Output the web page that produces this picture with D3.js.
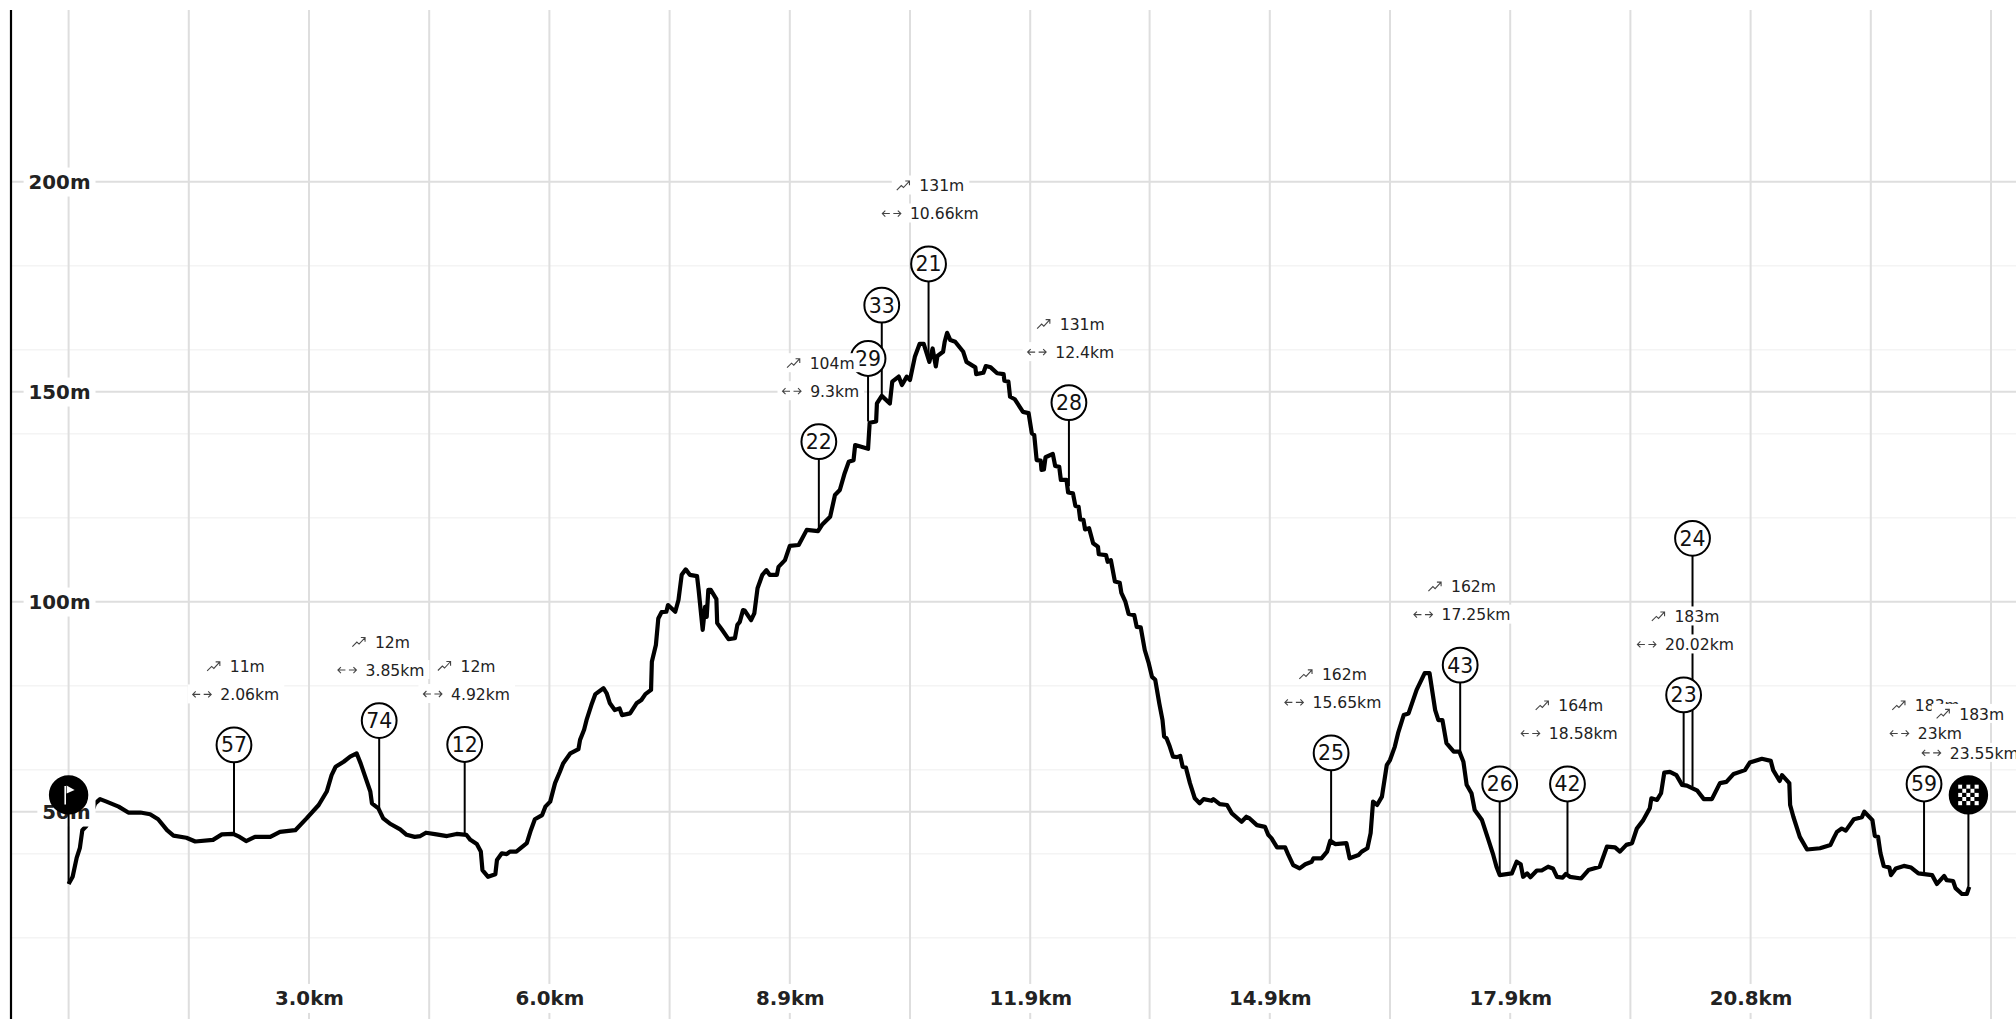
<!DOCTYPE html>
<html>
<head>
<meta charset="utf-8">
<script src="https://cdn.jsdelivr.net/npm/d3@7/dist/d3.min.js"></script>
<style>
  body { margin: 0; background: #fff; overflow: hidden; }
  text { font-family: "DejaVu Sans", sans-serif; }
</style>
</head>
<body>
<script>
var profileKm = [0,0.05,0.10,0.14,0.17,0.22,0.33,0.39,0.47,0.62,0.74,0.89,1.01,1.11,1.22,1.30,1.46,1.57,1.79,1.90,2.04,2.12,2.20,2.31,2.50,2.62,2.81,2.95,3.10,3.20,3.26,3.31,3.41,3.49,3.57,3.62,3.67,3.74,3.76,3.84,3.90,3.98,4.11,4.19,4.29,4.36,4.43,4.56,4.69,4.81,4.93,4.98,5.06,5.11,5.13,5.20,5.29,5.31,5.37,5.43,5.47,5.55,5.68,5.73,5.78,5.87,5.91,5.97,6.03,6.09,6.13,6.22,6.32,6.34,6.39,6.42,6.48,6.53,6.63,6.67,6.71,6.77,6.83,6.86,6.96,7.04,7.10,7.15,7.22,7.23,7.28,7.31,7.35,7.41,7.43,7.52,7.56,7.60,7.65,7.70,7.79,7.81,7.86,7.89,7.91,7.93,7.96,8.03,8.04,8.10,8.18,8.26,8.29,8.32,8.36,8.38,8.46,8.50,8.54,8.60,8.65,8.69,8.78,8.80,8.88,8.94,9.05,9.15,9.29,9.34,9.44,9.50,9.56,9.62,9.67,9.73,9.75,9.91,9.93,10.01,10.02,10.08,10.18,10.21,10.29,10.33,10.39,10.43,10.49,10.55,10.60,10.67,10.71,10.75,10.77,10.84,10.86,10.89,10.93,10.99,11.09,11.13,11.24,11.25,11.34,11.37,11.43,11.51,11.59,11.60,11.65,11.67,11.73,11.83,11.90,11.94,11.97,12.00,12.05,12.06,12.09,12.11,12.20,12.23,12.28,12.30,12.37,12.39,12.45,12.48,12.52,12.54,12.58,12.60,12.65,12.70,12.76,12.77,12.86,12.88,12.92,12.97,13.03,13.05,13.10,13.14,13.21,13.24,13.29,13.34,13.39,13.43,13.47,13.52,13.56,13.58,13.61,13.65,13.69,13.74,13.78,13.81,13.85,13.90,13.96,14.02,14.07,14.17,14.19,14.27,14.36,14.42,14.54,14.60,14.64,14.73,14.83,14.87,14.91,14.98,15.08,15.12,15.18,15.26,15.33,15.41,15.43,15.53,15.60,15.64,15.70,15.84,15.88,15.99,16.03,16.10,16.14,16.17,16.22,16.28,16.34,16.38,16.44,16.48,16.55,16.61,16.71,16.81,16.87,16.94,16.98,17.03,17.08,17.17,17.24,17.29,17.33,17.39,17.43,17.52,17.60,17.66,17.70,17.74,17.89,17.95,18.00,18.03,18.08,18.12,18.20,18.26,18.34,18.40,18.45,18.52,18.56,18.61,18.75,18.84,18.98,19.07,19.17,19.23,19.31,19.38,19.44,19.52,19.60,19.62,19.69,19.74,19.78,19.85,19.93,20.00,20.06,20.19,20.27,20.37,20.47,20.55,20.64,20.78,20.84,20.99,21.10,21.13,21.21,21.24,21.33,21.34,21.38,21.46,21.55,21.71,21.84,21.88,21.92,21.98,22.03,22.13,22.23,22.26,22.36,22.39,22.43,22.46,22.50,22.57,22.59,22.65,22.75,22.84,22.93,23.10,23.16,23.25,23.28,23.36,23.39,23.47,23.53,23.56];
var profileM = [32.8,34.5,39.0,41.4,45.6,46.6,52.0,53.0,52.4,51.2,49.8,49.8,49.4,48.2,45.6,44.3,43.8,42.9,43.3,44.6,44.7,44.0,43.0,44.0,44.0,45.2,45.6,48.4,51.6,54.8,58.7,60.7,61.9,63.1,63.9,61.5,58.7,54.8,52.0,50.8,48.4,47.2,45.8,44.5,44.0,44.2,45.0,44.6,44.2,44.7,44.5,43.3,42.3,40.5,36.1,34.5,35.1,38.5,40.1,39.9,40.5,40.5,42.5,45.6,48.2,49.2,51.2,52.4,56.8,59.5,61.5,63.9,64.9,67.1,69.5,71.8,75.4,78.0,79.4,78.2,75.8,74.2,74.6,73.0,73.4,75.8,76.6,78.0,79.0,85.7,89.7,96.0,97.5,97.6,99.2,97.6,100.4,106.4,107.7,106.4,106.1,102.8,93.3,98.8,96.4,102.8,102.8,100.6,94.9,93.3,91.1,91.3,94.5,95.2,98.0,97.9,95.6,97.2,103.2,106.4,107.5,106.4,106.4,108.3,109.9,113.3,113.5,117.1,116.8,118.3,120.2,125.4,126.6,130.6,133.3,133.7,137.3,136.4,142.6,142.9,147.2,149.0,147.2,152.4,153.6,151.6,153.6,152.8,158.3,161.4,161.4,157.1,160.3,156.0,158.5,159.5,161.9,164.0,162.3,161.9,159.5,157.1,155.8,154.2,154.5,156.1,155.8,154.4,154.2,152.6,152.4,148.8,148.2,145.2,144.9,140.1,139.7,133.7,133.6,131.4,131.5,134.4,135.2,132.3,132.1,129.0,129.0,126.0,125.8,122.8,122.6,119.6,119.5,117.2,117.5,113.9,113.1,111.3,111.1,109.5,109.9,104.8,104.5,102.1,100.0,97.1,96.8,94.0,93.9,88.5,85.3,82.1,81.4,75.8,71.8,67.9,67.5,65.5,63.1,63.0,63.3,60.7,60.5,56.8,53.2,52.0,53.0,52.6,53.0,51.8,51.6,49.6,47.6,48.8,48.4,46.8,46.4,44.5,43.7,41.5,41.5,39.7,37.3,36.5,37.5,38.1,38.9,38.9,40.5,43.1,42.3,42.5,38.9,39.7,40.5,41.3,44.9,52.4,51.6,53.6,61.1,62.3,65.5,68.7,73.0,73.4,79.0,83.0,83.0,74.2,71.8,71.8,66.3,64.3,64.3,61.9,56.4,54.4,50.4,48.0,43.3,39.7,36.9,34.9,35.3,38.1,37.5,34.5,35.3,34.4,36.0,36.0,36.9,36.5,34.5,34.3,35.2,34.5,34.1,36.1,36.9,41.7,41.5,40.5,42.1,42.5,46.0,48.0,50.8,53.2,52.8,54.4,59.3,59.5,58.7,56.4,56.2,55.0,53.0,53.0,56.8,57.1,59.0,59.9,61.7,62.6,62.1,59.9,57.3,58.7,56.8,51.6,48.8,44.0,41.0,41.3,42.1,43.7,45.2,46.0,45.5,48.2,48.7,50.0,48.0,44.2,44.0,40.1,37.1,36.7,34.9,36.5,37.1,36.7,35.3,34.9,32.8,34.7,33.7,33.5,31.8,30.4,30.4,32.1];

// stops along the route: name, where, height on the profile, height of the bubble
var stopNames = ["start","57","74","12","22","33","29","21","28","25","43","26","42","24","23","59","finish"];
var stopKm = [0,2.05,3.85,4.91,9.30,10.08,9.91,10.66,12.40,15.65,17.25,17.74,18.58,20.13,20.02,23.0,23.55];
var stopM = [32.8,44.7,50.8,44.9,117,149.2,142.9,158,127.5,43.2,64.3,35.2,35.4,56,56.4,35.4,32.1];
var bubbleM = [54,65.9,71.7,66,138.1,170.6,157.9,180.4,147.4,64,84.9,56.6,56.6,115.1,77.8,56.6,54];
var gainText = [null,"11m","12m","12m","104m",null,null,"131m","131m","162m","162m",null,"164m",null,"183m","183m","183m"];
var distText = [null,"2.06km","3.85km","4.92km","9.3km",null,null,"10.66km","12.4km","15.65km","17.25km",null,"18.58km",null,"20.02km","23km","23.55km"];

var majorM = [50,100,150,200];
var minorM = [20,40,60,80,120,140,160,180];
var gridKm = [0,1.49,2.98,4.47,5.96,7.45,8.94,10.43,11.92,13.40,14.89,16.38,17.87,19.36,20.85,22.34,23.83];
var tickKm = [2.98,5.96,8.94,11.92,14.89,17.87,20.85];
var tickKmText = ["3.0km","6.0km","8.9km","11.9km","14.9km","17.9km","20.8km"];

var width = 2016, height = 1019;
var svg = d3.select("body").append("svg").attr("width", width).attr("height", height);

var x = d3.scaleLinear().domain([0, 23.83]).range([68.6, 1991]);
var y = d3.scaleLinear().domain([0, 200]).range([1021.7, 181.7]);

// grid
svg.append("g").selectAll("line").data(minorM).enter().append("line")
  .attr("x1", 11).attr("x2", width)
  .attr("y1", function (d) { return y(d); }).attr("y2", function (d) { return y(d); })
  .attr("stroke", "#f4f4f4").attr("stroke-width", 1.5);
svg.append("g").selectAll("line").data(gridKm).enter().append("line")
  .attr("x1", function (d) { return x(d); }).attr("x2", function (d) { return x(d); })
  .attr("y1", 10).attr("y2", height)
  .attr("stroke", "#dedede").attr("stroke-width", 2);
svg.append("g").selectAll("line").data(majorM).enter().append("line")
  .attr("x1", 11).attr("x2", width)
  .attr("y1", function (d) { return y(d); }).attr("y2", function (d) { return y(d); })
  .attr("stroke", "#dedede").attr("stroke-width", 2);

svg.append("line").attr("x1", 11).attr("x2", 11).attr("y1", 10).attr("y2", height)
  .attr("stroke", "#000").attr("stroke-width", 2.2);

// elevation profile
var line = d3.line()
  .x(function (d, i) { return x(profileKm[i]); })
  .y(function (d) { return y(d); });
svg.append("path").datum(profileM)
  .attr("d", line)
  .attr("fill", "none")
  .attr("stroke", "#000")
  .attr("stroke-width", 4.2)
  .attr("stroke-linejoin", "round");

// axes, tick labels sit on a white box
var yAxis = svg.append("g").attr("transform", "translate(90.5,0)")
  .call(d3.axisLeft(y).tickValues(majorM).tickSize(0).tickPadding(0)
    .tickFormat(function (d) { return d + "m"; }));
var xAxis = svg.append("g").attr("transform", "translate(0,998)")
  .call(d3.axisBottom(x).tickValues(tickKm).tickSize(0).tickPadding(0)
    .tickFormat(function (d, i) { return tickKmText[i]; }));
xAxis.selectAll("text").attr("y", 0).attr("dy", "0.35em");

[yAxis, xAxis].forEach(function (axis) {
  axis.select(".domain").remove();
  axis.selectAll("text")
    .style("font-family", '"DejaVu Sans", sans-serif')
    .style("font-size", "19.8px")
    .style("font-weight", "bold")
    .attr("fill", "#222");
  axis.selectAll(".tick").each(function () {
    var t = d3.select(this).select("text");
    var b = t.node().getBBox();
    d3.select(this).insert("rect", "text")
      .attr("x", b.x - 5).attr("y", b.y - 3)
      .attr("width", b.width + 10).attr("height", b.height + 6)
      .attr("fill", "#fff");
  });
});

// stems and bubbles
var stops = svg.append("g").selectAll("g").data(stopNames).enter().append("g");
stops.append("line")
  .attr("x1", function (d, i) { return x(stopKm[i]); })
  .attr("x2", function (d, i) { return x(stopKm[i]); })
  .attr("y1", function (d, i) { return y(bubbleM[i]); })
  .attr("y2", function (d, i) { return y(stopM[i]); })
  .attr("stroke", "#000").attr("stroke-width", 2);
stops.append("circle")
  .attr("cx", function (d, i) { return x(stopKm[i]); })
  .attr("cy", function (d, i) { return y(bubbleM[i]); })
  .attr("r", function (d) { return d == "start" || d == "finish" ? 18.7 : 17.4; })
  .attr("fill", function (d) { return d == "start" || d == "finish" ? "#000" : "#fff"; })
  .attr("stroke", "#000").attr("stroke-width", 2);
stops.filter(function (d) { return d != "start" && d != "finish"; }).append("text")
  .attr("x", function (d) { return x(stopKm[stopNames.indexOf(d)]); })
  .attr("y", function (d) { return y(bubbleM[stopNames.indexOf(d)]); })
  .attr("dy", "0.36em")
  .attr("text-anchor", "middle")
  .attr("font-size", 20.5)
  .attr("fill", "#111")
  .text(function (d) { return d; });

// flag
var fx = x(0), fy = y(bubbleM[0]);
svg.append("path")
  .attr("d", "M" + (fx - 3.4) + "," + (fy - 9) + "V" + (fy + 9.5))
  .attr("stroke", "#fff").attr("stroke-width", 1.6);
svg.append("path")
  .attr("d", "M" + (fx - 2) + "," + (fy - 9.5) + "L" + (fx + 6) + "," + (fy - 5) + "L" + (fx - 2) + "," + (fy - 1.5) + "Z")
  .attr("fill", "#fff");

// checkered flag
var cx = x(23.55), cy = y(bubbleM[16]), cell = 4.1;
svg.append("g").selectAll("rect").data(d3.range(25)).enter().append("rect")
  .attr("x", function (d) { return cx - 10.2 + (d % 5) * cell; })
  .attr("y", function (d) { return cy - 10.2 + Math.floor(d / 5) * cell; })
  .attr("width", cell).attr("height", cell)
  .attr("fill", function (d) { return d % 2 == 0 ? "#fff" : "#000"; });

function drawRow(parent, kind, str, cxx, yy) {
  var lead = kind == "gain" ? 22.6 : 27.6;
  var row = parent.append("g");
  var bg = row.append("rect").attr("fill", "#fff");
  var t = row.append("text").attr("font-size", 15.6).attr("fill", "#222").attr("dy", "0.36em").attr("y", yy).text(str);
  var w = t.node().getComputedTextLength();
  var left = cxx - (lead + w) / 2;
  t.attr("x", left + lead);
  bg.attr("x", left - 5).attr("y", yy - 10).attr("width", lead + w + 10).attr("height", 19);
  var icon;
  if (kind == "gain") {
    icon = "M" + left + "," + (yy + 4.5) + "l4.5,-4.5l2.2,2l6,-6.5m-4.2,0h4.2v4.2";
  } else {
    icon = "M" + (left + 7.5) + "," + yy + "h-7.5m3,-3l-3,3l3,3" +
      "M" + (left + 11) + "," + yy + "h7.5m-3,-3l3,3l-3,3";
  }
  row.append("path").attr("d", icon).attr("fill", "none").attr("stroke", "#444").attr("stroke-width", 1.1);
}

// gain and distance notes, they sit over everything else
var notes = svg.append("g");
stopNames.forEach(function (name, i) {
  if (!gainText[i]) return;
  var c = x(stopKm[i]) + 2, b = y(bubbleM[i]);
  var last = name == "finish";
  drawRow(notes, "gain", gainText[i], c, b - (last ? 81 : 78.5));
  drawRow(notes, "dist", distText[i], c, b - (last ? 42 : 50.5));
});
</script>
</body>
</html>
